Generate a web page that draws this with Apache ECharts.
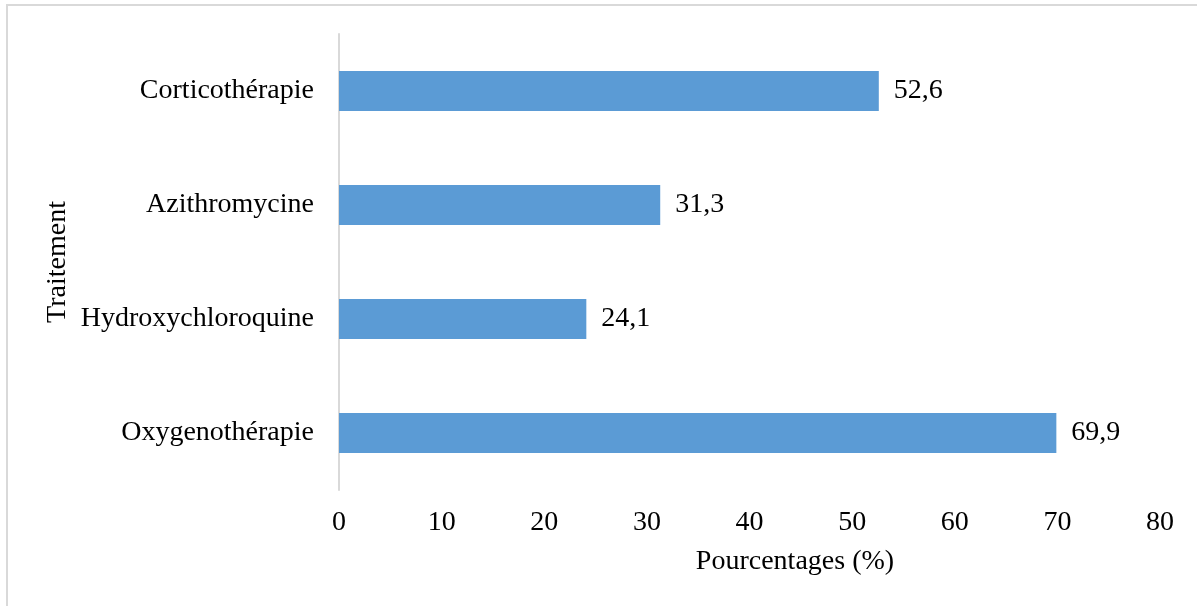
<!DOCTYPE html>
<html>
<head>
<meta charset="utf-8">
<script src="https://cdn.jsdelivr.net/npm/echarts@6/dist/echarts.min.js"></script>
<style>
  html, body { margin: 0; padding: 0; background: #fff; }
  #chart { width: 1197px; height: 606px; }
</style>
</head>
<body>
<div id="chart"></div>
<script>
// Treatments, listed bottom to top along the category axis
const categories = ['Oxygenothérapie', 'Hydroxychloroquine', 'Azithromycine', 'Corticothérapie'];
// Share of patients per treatment (%)
const values = [69.9, 24.1, 31.3, 52.6];
// Value axis ticks
const xTicks = [0, 10, 20, 30, 40, 50, 60, 70, 80];

const FONT = '"Liberation Serif", "Times New Roman", serif';
const FS = 28;
const chart = echarts.init(document.getElementById('chart'), null, { renderer: 'canvas' });

chart.setOption({
  backgroundColor: '#ffffff',
  animation: false,
  grid: { left: 339, right: 37, top: 34, bottom: 116, containLabel: false },
  xAxis: {
    type: 'value',
    min: xTicks[0],
    max: xTicks[xTicks.length - 1],
    interval: xTicks[1] - xTicks[0],
    axisLine: { show: false },
    axisTick: { show: false },
    splitLine: { show: false },
    axisLabel: { color: '#000', fontFamily: FONT, fontSize: FS, margin: 19 }
  },
  yAxis: {
    type: 'category',
    data: categories,
    axisLine: { show: true, lineStyle: { color: '#d9d9d9', width: 2 } },
    axisTick: { show: false },
    axisLabel: { color: '#000', fontFamily: FONT, fontSize: FS, margin: 25 }
  },
  series: [{
    type: 'bar',
    data: values,
    barWidth: 40,
    itemStyle: { color: '#5b9bd5' },
    label: {
      show: true,
      position: 'right',
      distance: 15,
      color: '#000',
      fontFamily: FONT,
      fontSize: FS,
      formatter: p => String(p.value).replace('.', ',')
    }
  }],
  graphic: [
    {
      type: 'rect',
      shape: { x: 7, y: 5, width: 1300, height: 700 },
      style: { fill: null, stroke: '#d9d9d9', lineWidth: 2 },
      silent: true
    },
    {
      type: 'text',
      x: 795, y: 562,
      style: { text: 'Pourcentages (%)', fill: '#000', font: FS + 'px ' + FONT, align: 'center', verticalAlign: 'middle' }
    },
    {
      type: 'text',
      x: 58, y: 262,
      rotation: Math.PI / 2,
      style: { text: 'Traitement', fill: '#000', font: FS + 'px ' + FONT, align: 'center', verticalAlign: 'middle' }
    }
  ]
});
</script>
</body>
</html>
